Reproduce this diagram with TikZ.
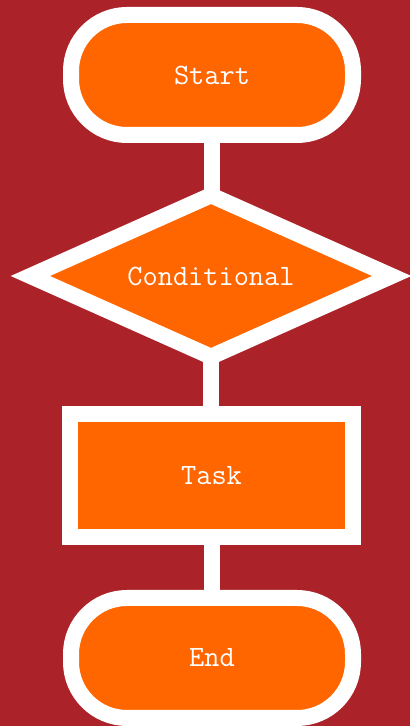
\documentclass[tikz,border=0pt]{standalone}
\usetikzlibrary{shapes.geometric}
\definecolor{bgred}{HTML}{AB2328}
\definecolor{boxorange}{HTML}{FF6600}
\pgfdeclarelayer{back}
\pgfdeclarelayer{links}
\pgfsetlayers{back,links,main}
\begin{document}
\begin{tikzpicture}[x=1pt, y=1pt,
  flowbox/.style={draw=white, fill=boxorange, line width=16pt, text=white,
    font=\ttfamily\fontsize{29.5}{34}\selectfont, inner sep=0pt},
  terminal/.style={flowbox, rectangle, rounded corners=56pt, minimum width=282pt, minimum height=120pt},
  link/.style={draw=white, line width=16pt}]
\useasboundingbox (0,0) rectangle (410,726);
\node[terminal] (start) at (212,651) {Start};
\node[flowbox, diamond, aspect=2.4, minimum width=368pt, minimum height=168pt, miter limit=10] (cond) at (211,450) {Conditional};
\node[flowbox, rectangle, minimum width=283pt, minimum height=123pt] (task) at (211.5,250.5) {Task};
\node[terminal] (end) at (212,68) {End};
\begin{pgfonlayer}{back}
\fill[bgred] (0,0) rectangle (410,726);
\end{pgfonlayer}
\begin{pgfonlayer}{links}
\draw[link] (start.center) -- (start.center |- cond.center);
\draw[link] (cond.center) -- (cond.center |- task.center);
\draw[link] (task.center) -- (task.center |- end.center);
\end{pgfonlayer}
\end{tikzpicture}
\end{document}
